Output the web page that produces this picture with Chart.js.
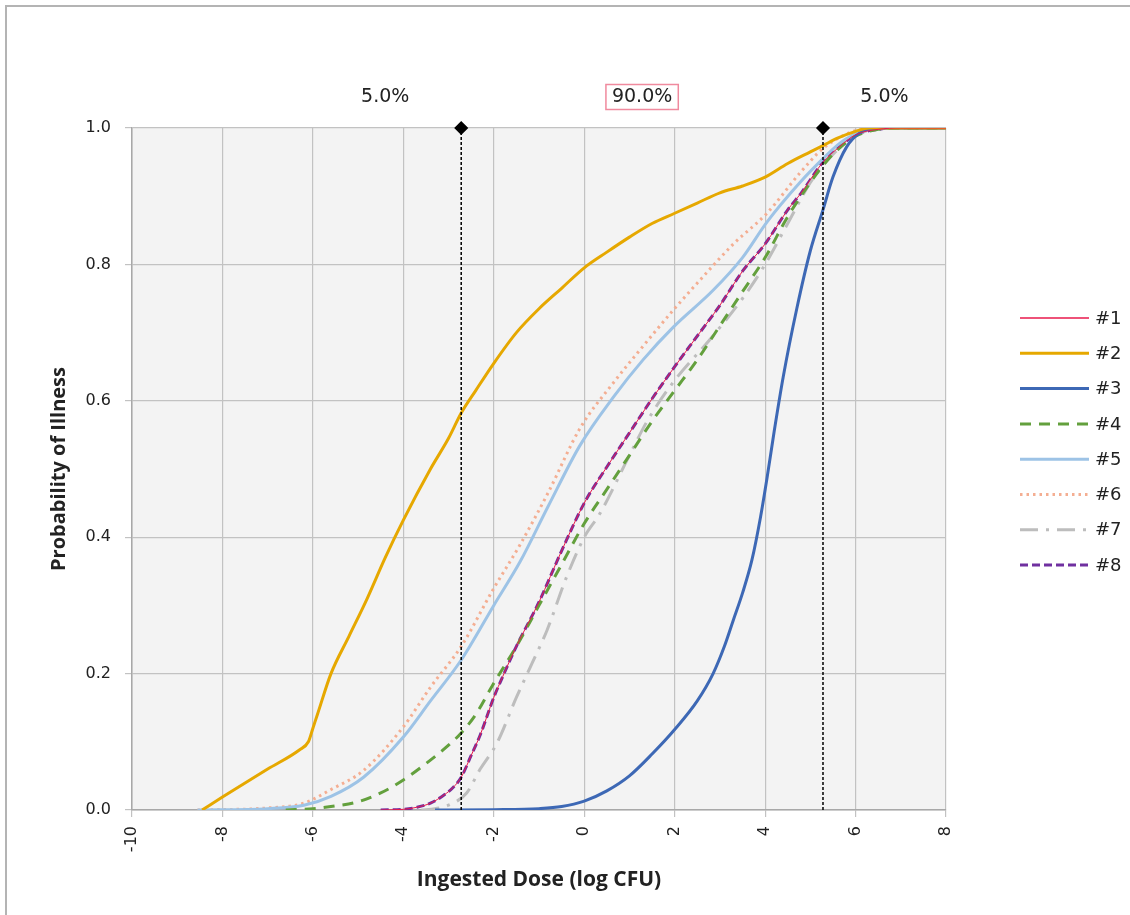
<!DOCTYPE html>
<html>
<head>
<meta charset="utf-8">
<title>Probability of Illness vs Ingested Dose</title>
<script src="https://cdn.jsdelivr.net/npm/chart.js@4.4.1/dist/chart.umd.min.js"></script>
<style>
  html, body { margin: 0; padding: 0; background: #fff; }
  #wrap { position: relative; width: 1130px; height: 915px; }
</style>
</head>
<body>
<div id="wrap"><canvas id="doseChart" width="1130" height="915"></canvas></div>
<script>
// dose-response curves, x = log CFU, y = probability of illness
var seriesNames = ["#1", "#2", "#3", "#4", "#5", "#6", "#7", "#8"];

var dose1 = [-4.5, -4, -3.7, -3.4, -3.1, -2.9, -2.72, -2.5, -2.3, -2, -1.8, -1.5, -1, -0.5, 0, 0.5, 1, 1.5, 2, 2.5, 3, 3.5, 4, 4.5, 4.8, 5.28, 5.6, 6, 6.5, 7, 8];
var prob1 = [0, 0.001, 0.004, 0.01, 0.022, 0.033, 0.048, 0.08, 0.11, 0.165, 0.196, 0.24, 0.305, 0.38, 0.45, 0.503, 0.553, 0.603, 0.65, 0.695, 0.74, 0.79, 0.83, 0.88, 0.905, 0.95, 0.97, 0.99, 0.998, 1, 1];

var dose2 = [-8.45, -8, -7, -6.3, -6.1, -6.0, -5.9, -5.6, -5.2, -4.8, -4.4, -4, -3.4, -3, -2.72, -2.4, -2, -1.5, -1, -0.5, 0, 0.5, 1, 1.5, 2, 2.5, 3, 3.5, 4, 4.5, 5, 5.3, 5.6, 6, 6.3, 8];
var prob2 = [0, 0.019, 0.06, 0.088, 0.1, 0.12, 0.14, 0.2, 0.255, 0.31, 0.37, 0.425, 0.5, 0.545, 0.582, 0.615, 0.655, 0.7, 0.735, 0.765, 0.795, 0.818, 0.84, 0.86, 0.875, 0.89, 0.905, 0.915, 0.928, 0.948, 0.965, 0.975, 0.985, 0.995, 1, 1];

var dose3 = [-3.3, -2, -1, -0.5, 0, 0.5, 1, 1.5, 2, 2.5, 2.85, 3.1, 3.3, 3.5, 3.71, 3.9, 4.05, 4.2, 4.4, 4.7, 5, 5.28, 5.5, 5.8, 6.1, 6.5, 8];
var prob3 = [0, 0.0005, 0.002, 0.005, 0.013, 0.028, 0.05, 0.082, 0.118, 0.16, 0.2, 0.24, 0.279, 0.318, 0.367, 0.43, 0.49, 0.555, 0.635, 0.735, 0.82, 0.88, 0.928, 0.972, 0.993, 1, 1];

var dose4 = [-6.6, -6, -5.5, -5, -4.5, -4, -3.5, -3, -2.72, -2.4, -2, -1.5, -1, -0.5, 0, 0.5, 1, 1.5, 2, 2.5, 3, 3.5, 4, 4.5, 5, 5.28, 5.6, 6, 6.5, 7, 8];
var prob4 = [0, 0.002, 0.006, 0.012, 0.025, 0.044, 0.068, 0.095, 0.113, 0.14, 0.186, 0.24, 0.3, 0.36, 0.42, 0.47, 0.52, 0.57, 0.615, 0.66, 0.71, 0.76, 0.81, 0.87, 0.92, 0.945, 0.968, 0.988, 0.998, 1, 1];

var dose5 = [-8.55, -7, -6.2, -5.6, -4.88, -4, -3.4, -2.72, -2, -1.41, -0.8, -0.09, 0.64, 1.3, 1.97, 2.85, 3.5, 4.04, 4.77, 5.28, 5.6, 5.95, 6.5, 8];
var prob5 = [0, 0.002, 0.007, 0.02, 0.048, 0.107, 0.16, 0.22, 0.3, 0.365, 0.445, 0.535, 0.605, 0.66, 0.708, 0.762, 0.81, 0.862, 0.92, 0.955, 0.975, 0.99, 1, 1];

var dose6 = [-8.55, -7, -6.2, -5.6, -4.88, -4, -3.4, -2.72, -2, -1.41, -0.8, -0.09, 0.64, 1.3, 1.97, 2.56, 3.3, 4.04, 4.77, 5.28, 5.7, 6.1, 6.5, 8];
var prob6 = [0, 0.003, 0.01, 0.03, 0.058, 0.122, 0.18, 0.24, 0.325, 0.39, 0.465, 0.56, 0.626, 0.68, 0.733, 0.777, 0.83, 0.875, 0.934, 0.97, 0.988, 0.998, 1, 1];

var dose7 = [-3.6, -3.3, -3, -2.6, -2.3, -1.93, -1.5, -1.19, -0.82, -0.4, 0, 0.35, 1, 1.39, 2, 2.78, 3.5, 4, 4.5, 5, 5.28, 5.6, 6, 6.5, 7, 8];
var prob7 = [0, 0.002, 0.007, 0.025, 0.06, 0.098, 0.165, 0.21, 0.264, 0.34, 0.4, 0.435, 0.52, 0.57, 0.63, 0.69, 0.75, 0.8, 0.86, 0.92, 0.945, 0.968, 0.99, 0.998, 1, 1];

var dose8 = [-4.5, -4, -3.7, -3.4, -3.1, -2.9, -2.72, -2.5, -2.3, -2, -1.8, -1.5, -1, -0.5, 0, 0.5, 1, 1.5, 2, 2.5, 3, 3.5, 4, 4.5, 4.8, 5.28, 5.6, 6, 6.5, 7, 8];
var prob8 = [0, 0.001, 0.004, 0.01, 0.022, 0.033, 0.048, 0.08, 0.11, 0.165, 0.196, 0.24, 0.305, 0.38, 0.45, 0.503, 0.553, 0.603, 0.65, 0.695, 0.74, 0.79, 0.83, 0.88, 0.905, 0.95, 0.97, 0.99, 0.998, 1, 1];

var allDoses = [dose1, dose2, dose3, dose4, dose5, dose6, dose7, dose8];
var allProbs = [prob1, prob2, prob3, prob4, prob5, prob6, prob7, prob8];

// 5% / 95% cut-offs and the band percentages written above them
var cutDoses = [-2.72, 5.28];
var bandLabels = ["5.0%", "90.0%", "5.0%"];

var xTicks = [-10, -8, -6, -4, -2, 0, 2, 4, 6, 8];
var yTicks = [0, 0.2, 0.4, 0.6, 0.8, 1.0];

var styles = [
    { color: "#E8194B", width: 1, dash: [] },
    { color: "#E6A800", width: 3, dash: [] },
    { color: "#3D68B5", width: 3, dash: [] },
    { color: "#63A03D", width: 3, dash: [11, 8] },
    { color: "#9DC3E6", width: 3, dash: [] },
    { color: "#F4AE92", width: 3, dash: [2.5, 4] },
    { color: "#BDBDBD", width: 3, dash: [18, 8, 3, 8] },
    { color: "#7030A0", width: 3, dash: [8, 4] }
];

var datasets = seriesNames.map(function (name, i) {
    return {
        label: name,
        data: allDoses[i].map(function (d, j) { return { x: d, y: allProbs[i][j] }; }),
        borderColor: styles[i].color,
        backgroundColor: styles[i].color,
        borderWidth: styles[i].width,
        borderDash: styles[i].dash,
        pointRadius: 0,
        cubicInterpolationMode: "monotone",
        fill: false,
        isCurve: true
    };
});

cutDoses.forEach(function (c) {
    datasets.push({
        label: "cut",
        data: [{ x: c, y: 0 }, { x: c, y: 1 }],
        borderColor: "#000",
        borderWidth: 1.5,
        borderDash: [3, 2],
        pointStyle: "rectRot",
        pointRadius: [0, 6],
        pointBackgroundColor: "#000",
        pointBorderColor: "#000",
        clip: false,
        order: -1,
        isCurve: false
    });
});

var plotBg = {
    id: "plotBg",
    beforeDraw: function (chart) {
        var ctx = chart.ctx, a = chart.chartArea;
        ctx.save();
        ctx.fillStyle = "#fff";
        ctx.fillRect(0, 0, chart.width, chart.height);
        ctx.strokeStyle = "#b4b4b4";
        ctx.lineWidth = 2;
        ctx.strokeRect(6, 6, chart.width + 50, chart.height + 50);
        ctx.fillStyle = "#f3f3f3";
        ctx.fillRect(a.left, a.top, a.right - a.left, a.bottom - a.top);
        ctx.restore();
    }
};

var extras = {
    id: "extras",
    afterDraw: function (chart) {
        var ctx = chart.ctx, xs = chart.scales.x;
        var xmax = xs.max;
        var centers = [-4.4, (cutDoses[0] + cutDoses[1]) / 2, (cutDoses[1] + xmax) / 2];
        ctx.save();
        ctx.font = "19px 'DejaVu Sans'";
        ctx.fillStyle = "#222";
        ctx.textAlign = "center";
        ctx.textBaseline = "middle";
        bandLabels.forEach(function (t, i) {
            var px = xs.getPixelForValue(centers[i]);
            ctx.fillText(t, px, 97);
            if (i === 1) {
                var w = ctx.measureText(t).width + 12;
                ctx.strokeStyle = "#F08A9E";
                ctx.lineWidth = 1.5;
                ctx.strokeRect(px - w / 2, 84.5, w, 25);
            }
        });

        // legend on the right
        var y = 318;
        chart.data.datasets.forEach(function (ds) {
            if (!ds.isCurve) return;
            ctx.beginPath();
            ctx.strokeStyle = ds.borderColor;
            ctx.lineWidth = ds.borderWidth < 2 ? 1.5 : ds.borderWidth;
            ctx.setLineDash(ds.borderDash);
            ctx.moveTo(1020, y);
            ctx.lineTo(1089, y);
            ctx.stroke();
            ctx.setLineDash([]);
            ctx.font = "18px 'DejaVu Sans'";
            ctx.fillStyle = "#222";
            ctx.textAlign = "left";
            ctx.fillText(ds.label, 1095, y + 1);
            y += 35.3;
        });
        ctx.restore();
    }
};

new Chart(document.getElementById("doseChart"), {
    type: "line",
    data: { datasets: datasets },
    options: {
        responsive: false,
        animation: false,
        devicePixelRatio: 1,
        layout: { padding: { left: 0, right: 184, top: 128, bottom: 0 } },
        plugins: {
            legend: { display: false },
            tooltip: { enabled: false }
        },
        scales: {
            x: {
                type: "linear",
                min: xTicks[0],
                max: xTicks[xTicks.length - 1],
                afterBuildTicks: function (s) { s.ticks = xTicks.map(function (v) { return { value: v }; }); },
                afterFit: function (s) { s.height = 105; },
                ticks: {
                    minRotation: 90,
                    maxRotation: 90,
                    padding: 9,
                    color: "#222",
                    font: { family: "'DejaVu Sans'", size: 16 }
                },
                grid: { color: "#c2c2c2", lineWidth: 1.2, tickLength: 7 },
                border: { color: "#a8a8a8", width: 1.5 },
                title: {
                    display: true,
                    text: "Ingested Dose (log CFU)",
                    color: "#222",
                    font: { family: "'Open Sans'", size: 21, weight: "bold" },
                    padding: { top: 0, bottom: 22 }
                }
            },
            y: {
                min: 0,
                max: 1,
                afterBuildTicks: function (s) { s.ticks = yTicks.map(function (v) { return { value: v }; }); },
                afterFit: function (s) { s.width = 132; },
                ticks: {
                    padding: 14,
                    color: "#222",
                    font: { family: "'DejaVu Sans'", size: 16 },
                    callback: function (v) { return v.toFixed(1); }
                },
                grid: { color: "#c2c2c2", lineWidth: 1.2, tickLength: 7 },
                border: { color: "#a8a8a8", width: 1.5 },
                title: {
                    display: true,
                    text: "Probability of Illness",
                    color: "#222",
                    font: { family: "'Open Sans'", size: 20, weight: "bold" },
                    padding: { top: 47, bottom: 0 }
                }
            }
        }
    },
    plugins: [plotBg, extras]
});
</script>
</body>
</html>
